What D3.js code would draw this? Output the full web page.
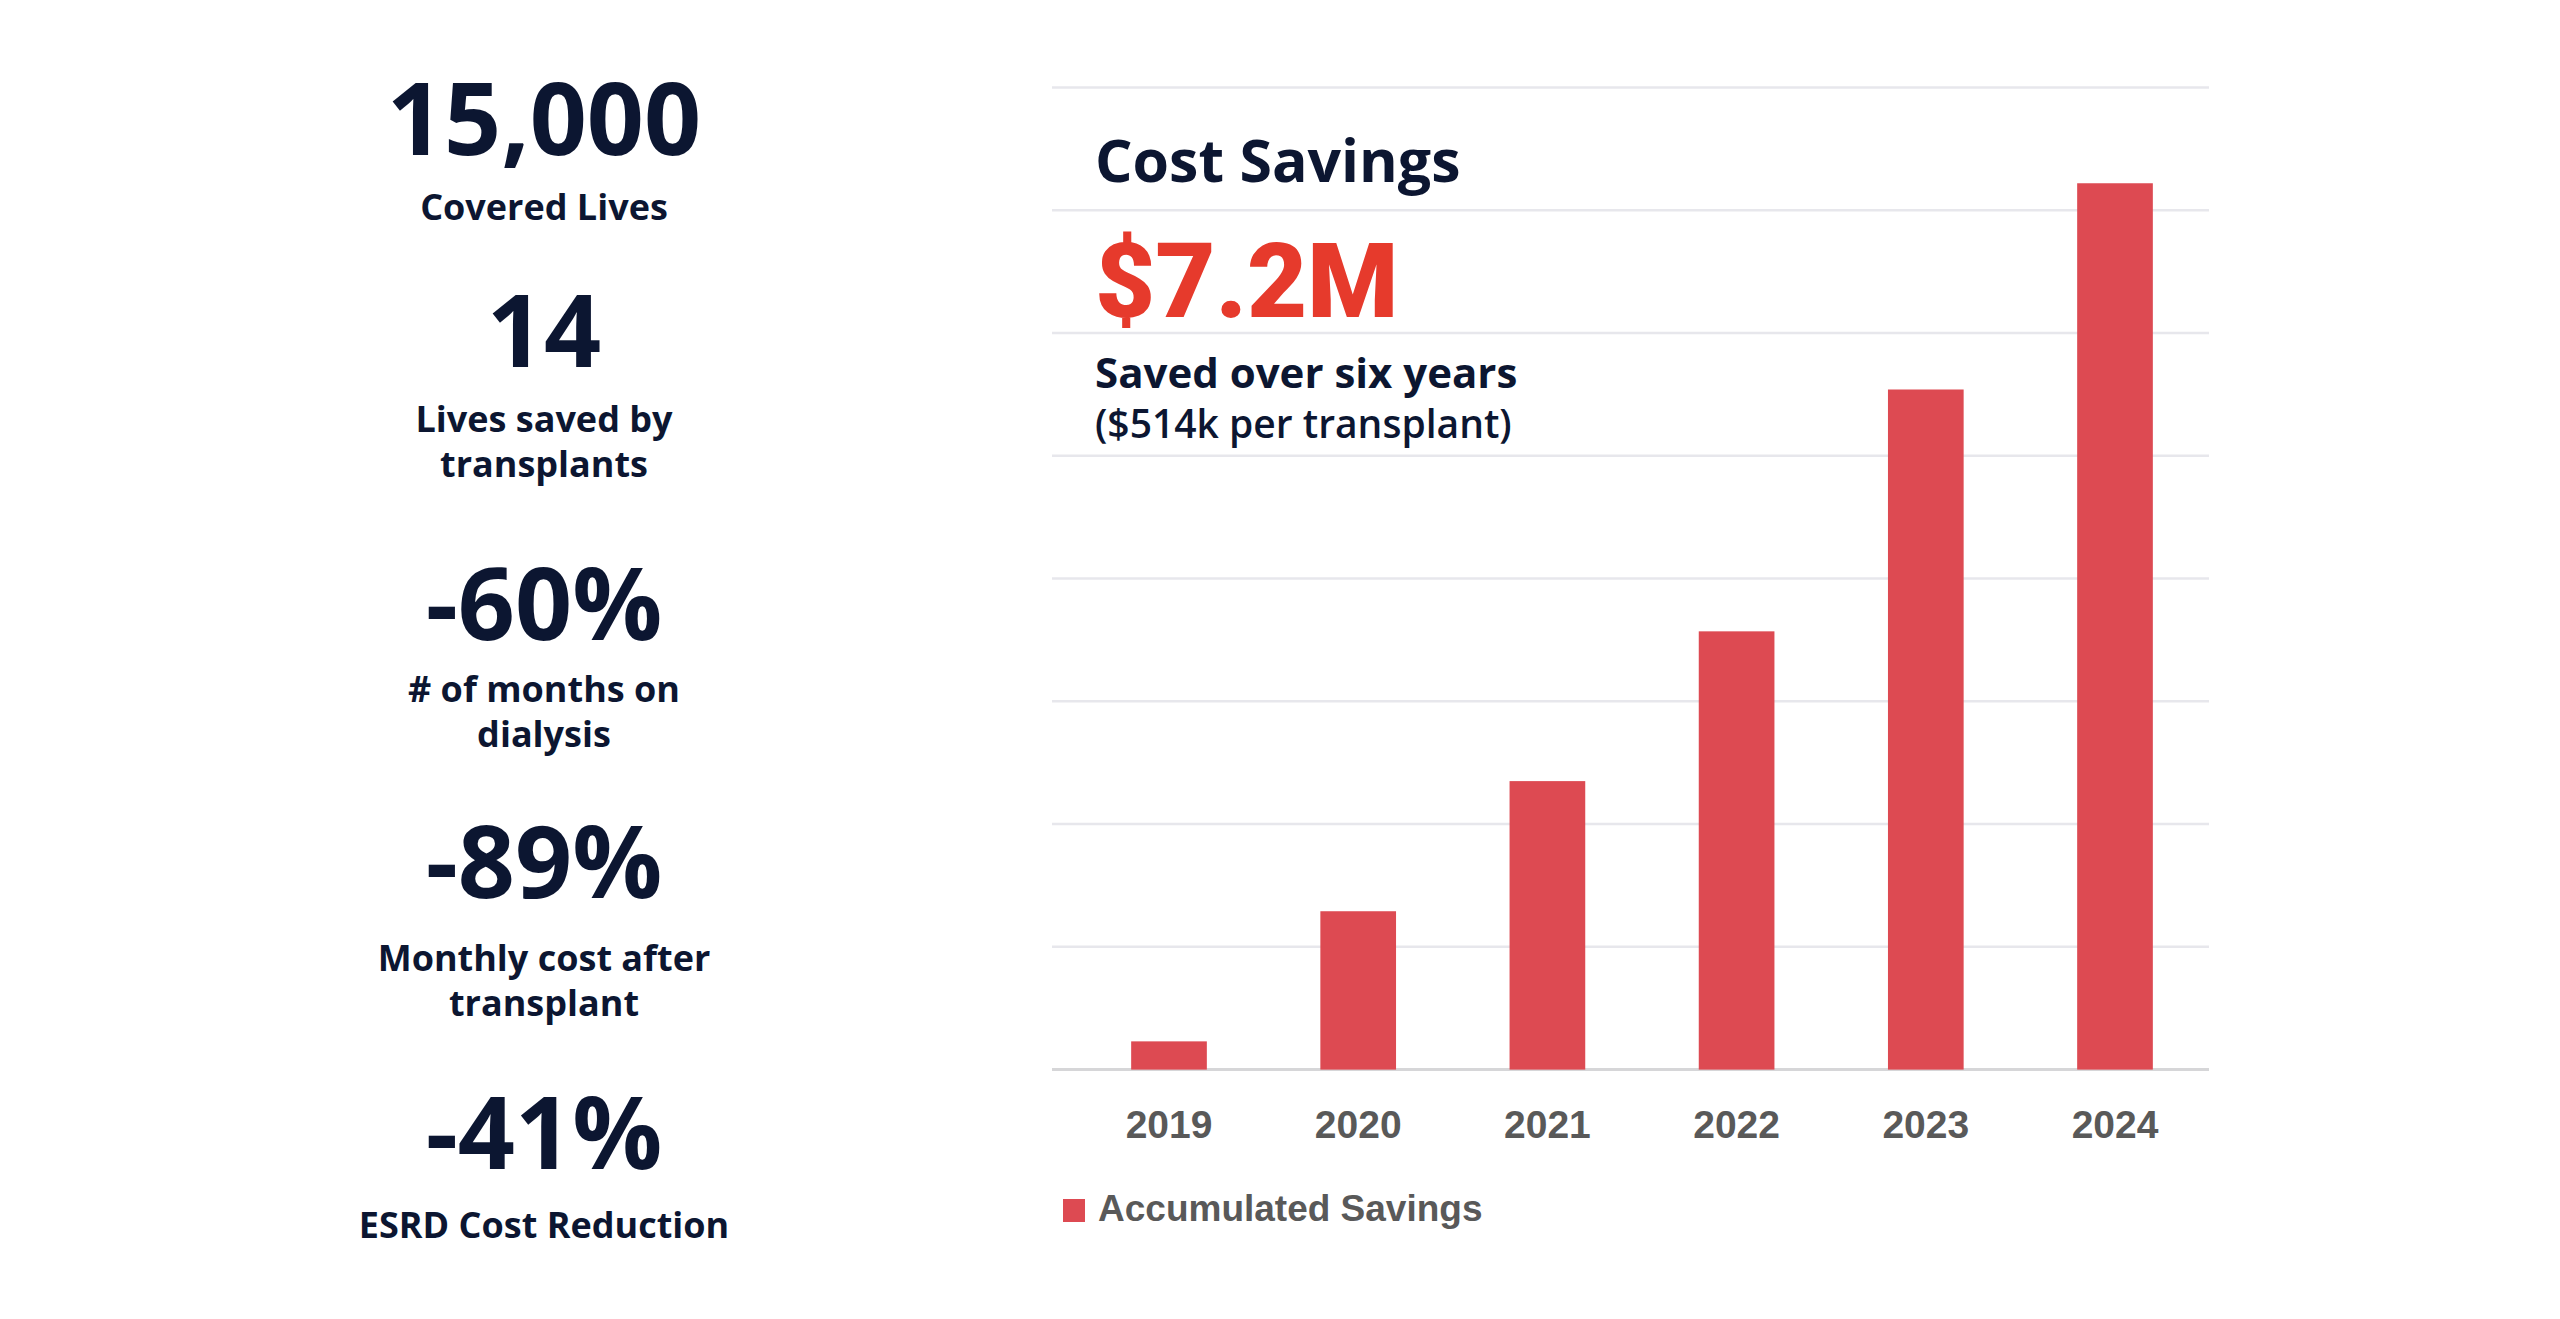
<!DOCTYPE html>
<html>
<head>
<meta charset="utf-8">
<script src="https://cdn.jsdelivr.net/npm/d3@7"></script>
<style>
  html, body { margin: 0; padding: 0; background: #fff; }
  svg { display: block; }
</style>
</head>
<body>
<div id="chart"></div>
<script>
// chart data (accumulated savings, $M)
var years = ["2019", "2020", "2021", "2022", "2023", "2024"];
var savings = [0.23, 1.29, 2.35, 3.57, 5.54, 7.22];
var gridTicks = [0, 1, 2, 3, 4, 5, 6, 7, 8];
var seriesName = "Accumulated Savings";

// headline texts
var chartTitle = "Cost Savings";
var headline = "$7.2M";
var headlineNote = "Saved over six years";
var headlineSub = "($514k per transplant)";

// left column stats
var statValues = ["15,000", "14", "-60%", "-89%", "-41%"];
var statLabels = [
  ["Covered Lives"],
  ["Lives saved by", "transplants"],
  ["# of months on", "dialysis"],
  ["Monthly cost after", "transplant"],
  ["ESRD Cost Reduction"]
];

var W = 2560, H = 1319;
var navy = "#0c1631";
var barColor = "#dd4a52";

var svg = d3.select("#chart")
  .append("svg")
  .attr("width", W)
  .attr("height", H);

svg.append("rect").attr("width", W).attr("height", H).attr("fill", "#fff");

// ---- bar chart
var gridLeft = 1052, gridRight = 2209;
var x = d3.scaleBand()
  .domain(years)
  .range([1074.4, 2209.6])
  .paddingInner(0.6)
  .paddingOuter(0.3);
var y = d3.scaleLinear()
  .domain([0, 8])
  .range([1069.6, 87.5]);

svg.append("g")
  .selectAll("line")
  .data(gridTicks)
  .join("line")
    .attr("x1", gridLeft)
    .attr("x2", gridRight)
    .attr("y1", function(d) { return y(d); })
    .attr("y2", function(d) { return y(d); })
    .attr("stroke", function(d) { return d === 0 ? "#d6d6d8" : "#e7e7ec"; })
    .attr("stroke-width", function(d) { return d === 0 ? 3 : 2.5; });

svg.append("g")
  .selectAll("rect")
  .data(savings)
  .join("rect")
    .attr("x", function(d, i) { return x(years[i]); })
    .attr("y", function(d) { return y(d); })
    .attr("width", x.bandwidth())
    .attr("height", function(d) { return y(0) - y(d); })
    .attr("fill", barColor);

// year labels via a bottom axis, no domain / ticks
var xAxis = svg.append("g")
  .attr("transform", "translate(0," + y(0) + ")")
  .call(d3.axisBottom(x).tickSize(0).tickPadding(0));
xAxis.select(".domain").remove();
xAxis.selectAll("text")
  .attr("dy", null)
  .attr("y", 68.5)
  .attr("font-family", "'Liberation Sans', Arial, sans-serif")
  .attr("font-weight", "bold")
  .attr("font-size", 39)
  .attr("fill", "#595959");

// legend
var legend = svg.append("g").attr("transform", "translate(1063,1199)");
legend.append("rect")
  .attr("width", 22).attr("height", 23)
  .attr("fill", barColor);
legend.append("text")
  .attr("x", 35).attr("y", 22)
  .attr("font-family", "'Liberation Sans', Arial, sans-serif")
  .attr("font-weight", "bold")
  .attr("font-size", 37)
  .attr("fill", "#595959")
  .text(seriesName);

// headline block
var head = svg.append("g").attr("transform", "translate(1095,0)");
head.append("text")
  .attr("y", 182)
  .attr("font-family", "'Open Sans', sans-serif")
  .attr("font-weight", 700)
  .attr("font-size", 59)
  .attr("fill", navy)
  .text(chartTitle);
head.append("text")
  .attr("y", 317)
  .attr("font-family", "Roboto, sans-serif")
  .attr("font-weight", 900)
  .attr("font-size", 104)
  .attr("fill", "#e63a2c")
  .text(headline);
head.append("text")
  .attr("y", 388)
  .attr("font-family", "'Open Sans', sans-serif")
  .attr("font-weight", 700)
  .attr("font-size", 42)
  .attr("fill", navy)
  .text(headlineNote);
head.append("text")
  .attr("y", 438)
  .attr("font-family", "'Open Sans', sans-serif")
  .attr("font-weight", 600)
  .attr("font-size", 39)
  .attr("fill", navy)
  .text(headlineSub);

// ---- left column stats
var colX = 544;
var valueBase = [155, 367, 640, 898, 1169];
var labelBase = [220, 432, 702, 971, 1238];
var lineGap = 45;

var stats = svg.append("g")
  .attr("font-family", "'Open Sans', sans-serif")
  .attr("font-weight", 700)
  .attr("fill", navy)
  .attr("text-anchor", "middle");

stats.selectAll("text.value")
  .data(statValues)
  .join("text")
    .attr("class", "value")
    .attr("x", colX)
    .attr("y", function(d, i) { return valueBase[i]; })
    .attr("font-size", 100)
    .text(function(d) { return d; });

statLabels.forEach(function(lines, i) {
  stats.selectAll(null)
    .data(lines)
    .join("text")
      .attr("x", colX)
      .attr("y", function(d, j) { return labelBase[i] + j * lineGap; })
      .attr("font-size", 36)
      .text(function(d) { return d; });
});
</script>
</body>
</html>
